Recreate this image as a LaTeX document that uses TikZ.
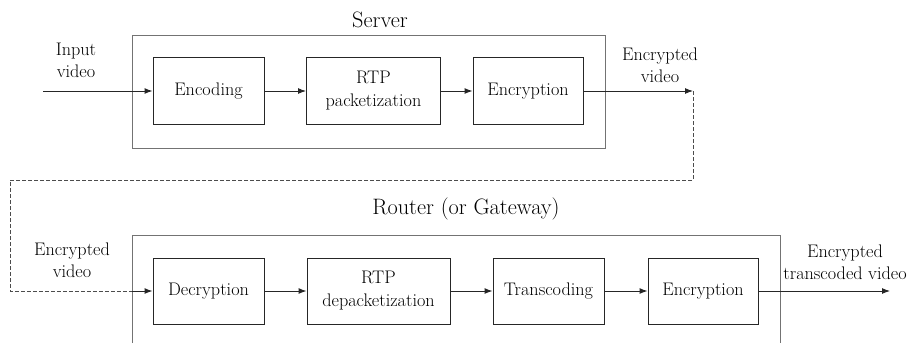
\documentclass[tikz,border=0pt]{standalone}
\usetikzlibrary{arrows.meta}
\begin{document}
\begin{tikzpicture}[x=1pt,y=-1pt,
  blk/.style={draw=black!85,line width=1pt,minimum height=66pt,inner sep=0pt,align=center,
    font=\fontsize{18.2}{23}\selectfont},
  lbl/.style={inner sep=0pt,align=center,font=\fontsize{18.2}{22}\selectfont},
  ttl/.style={inner sep=0pt,font=\fontsize{22.3}{26}\selectfont},
  box/.style={draw=black!55,line width=0.8pt},
  arr/.style={draw=black!85,line width=1pt,-{Latex[length=8pt,width=6pt]}},
  dsh/.style={draw=black!70,line width=0.8pt,dash pattern=on 4pt off 2pt}]
\useasboundingbox (0,0) rectangle (918,345);
% containers
\draw[box] (132,35) rectangle (605,148);
\draw[box] (132,343) -- (132,235) -- (780,235) -- (780,343);
\node[ttl] (srv) at (380,20) {Server};
\node[ttl] (rtr) at (466,209) {Router (or Gateway)};
% top row
\node[blk,minimum width=111pt] (enc) at (208.5,91) {Encoding};
\node[blk,minimum width=134pt] (pkt) at (373.5,91) {RTP\\packetization};
\node[blk,minimum width=110pt] (cry1) at (528,91) {Encryption};
\coordinate (in) at (43,91);
\coordinate (e1) at (693,91);
\node[lbl] (linput) at (76,60) {Input\\video};
\node[lbl] (lenc1) at (660,65) {Encrypted\\video};
\draw[arr] (in) -- (enc);
\draw[arr] (enc) -- (pkt);
\draw[arr] (pkt) -- (cry1);
\draw[arr] (cry1) -- (e1);
% bottom row
\node[blk,minimum width=111pt] (dec) at (208.5,291) {Decryption};
\node[blk,minimum width=143pt] (dpk) at (378.5,291) {RTP\\depacketization};
\node[blk,minimum width=111pt] (trc) at (548.5,291) {Transcoding};
\node[blk,minimum width=110pt] (cry2) at (703,291) {Encryption};
\coordinate (c1) at (693,180);
\coordinate (c2) at (10,180);
\coordinate (c3) at (10,291);
\coordinate (d0) at (132,291);
\coordinate (out) at (890,291);
\node[lbl] (lenc2) at (72,260) {Encrypted\\video};
\node[lbl] (lout) at (845,262) {Encrypted\\transcoded video};
\draw[dsh] (e1) -- (c1) -- (c2) -- (c3) -- (d0);
\draw[arr] (d0) -- (dec);
\draw[arr] (dec) -- (dpk);
\draw[arr] (dpk) -- (trc);
\draw[arr] (trc) -- (cry2);
\draw[arr] (cry2) -- (out);
\end{tikzpicture}
\end{document}
